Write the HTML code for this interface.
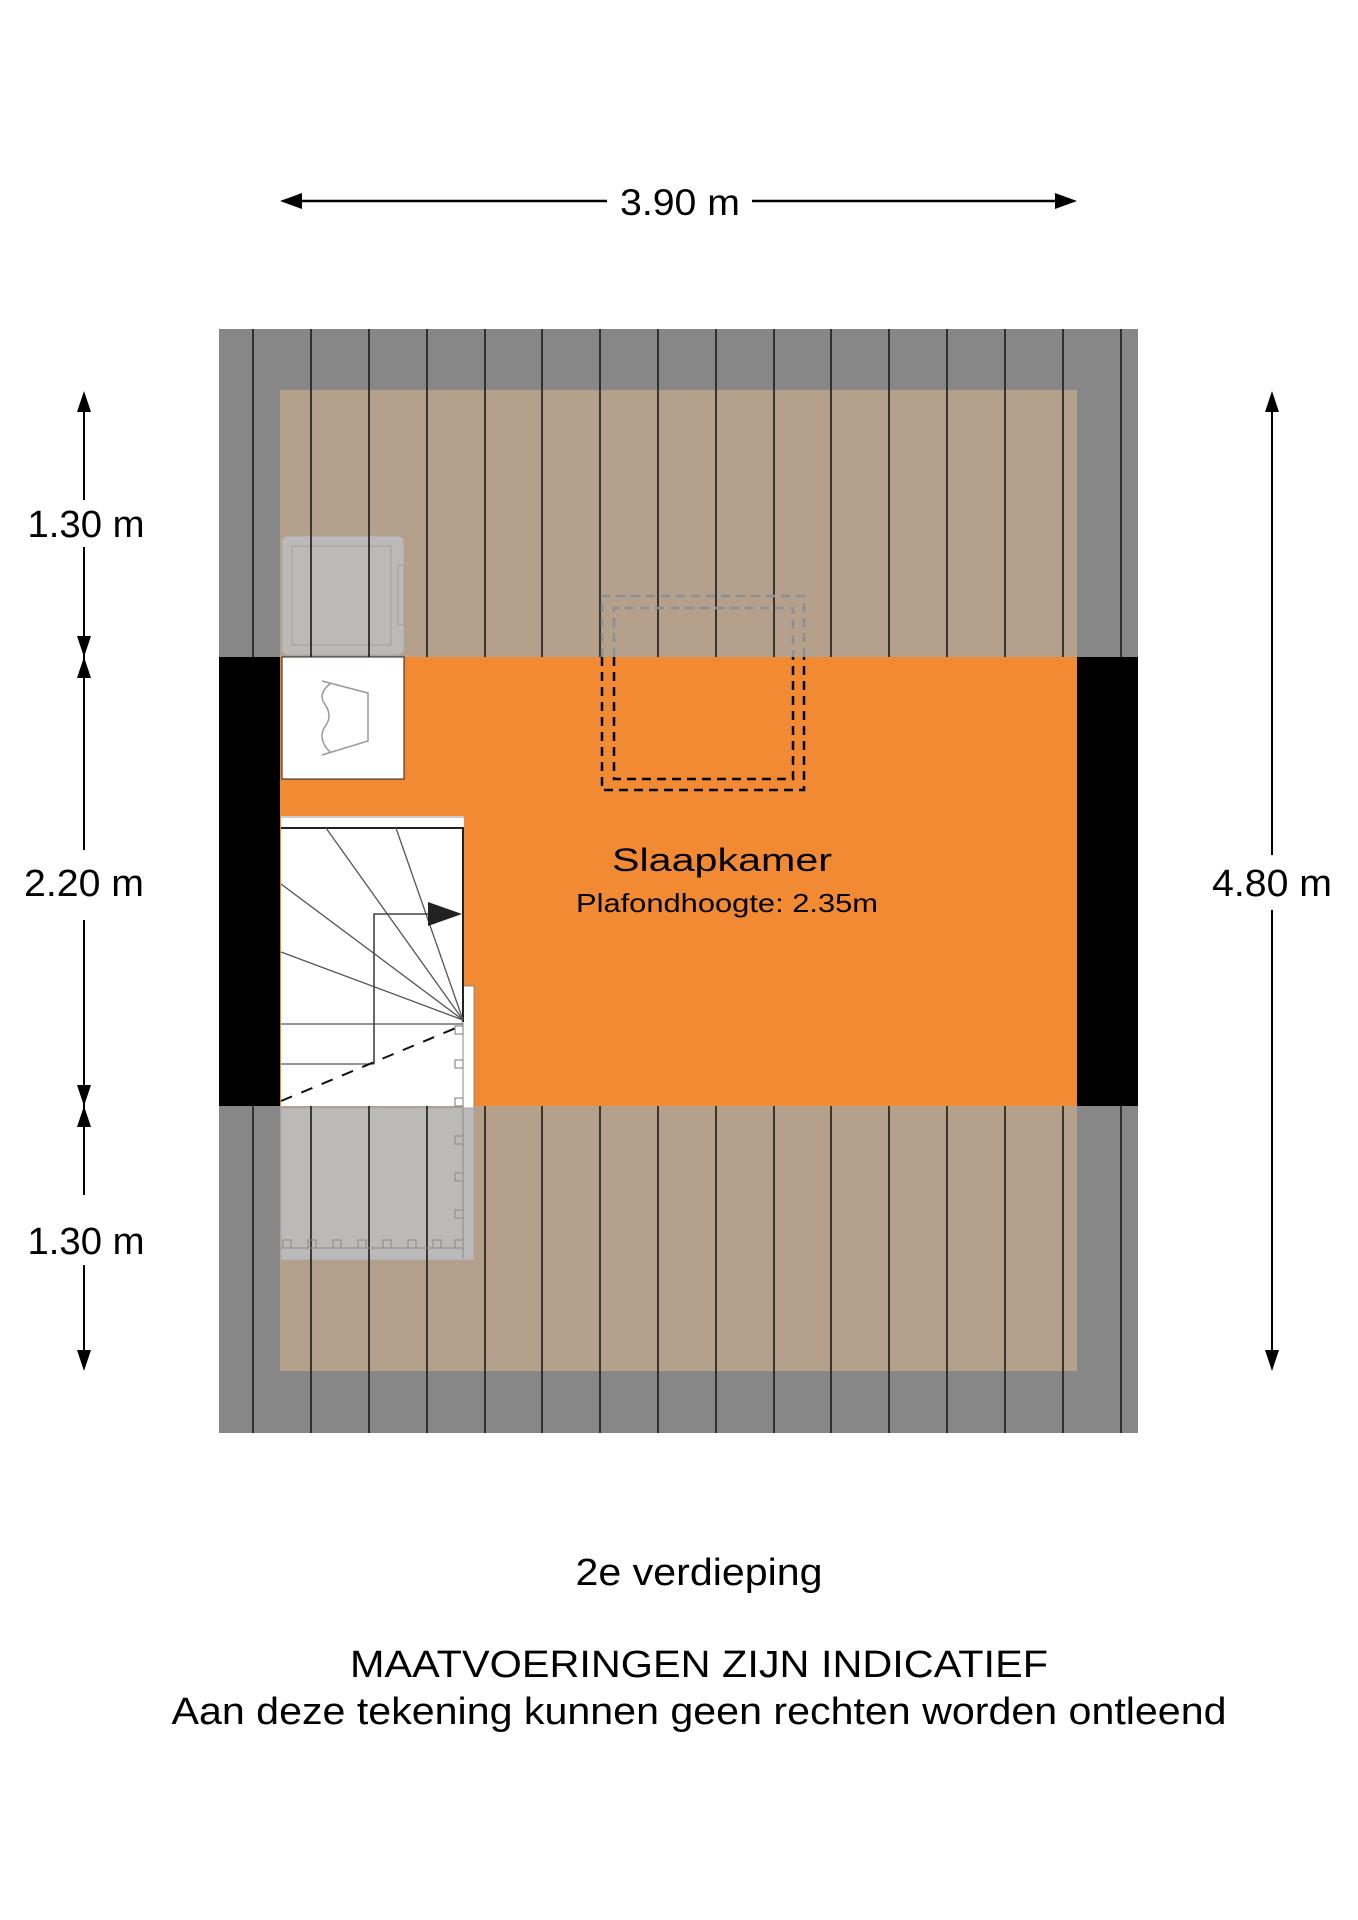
<!DOCTYPE html>
<html><head><meta charset="utf-8"><style>html,body{margin:0;padding:0;background:#fff}svg{display:block}text{font-family:"Liberation Sans",Arial,sans-serif;fill:#000}</style></head>
<body>
<svg width="1358" height="1920" viewBox="0 0 1358 1920" xmlns="http://www.w3.org/2000/svg">
<rect x="219" y="329" width="919" height="1104" fill="#878787"/>
<rect x="280" y="390" width="797" height="981" fill="#b5a08c"/>
<rect x="280" y="657" width="797" height="449" fill="#f18a33"/>
<rect x="281" y="816" width="183" height="290" fill="#fff"/>
<rect x="463" y="986" width="11" height="122" fill="#fff" stroke="#888" stroke-width="1"/>
<!-- appliance -->
<rect x="282" y="536" width="122" height="119" rx="6" fill="#bcbcbc" fill-opacity="0.9" stroke="#a8a8a8"/>
<rect x="292" y="546" width="99" height="99" fill="none" stroke="#a0a0a0"/>
<rect x="398" y="565" width="6" height="60" fill="none" stroke="#a0a0a0"/>
<rect x="281" y="1108" width="193" height="152" fill="#bcbcbc" fill-opacity="0.9" stroke="#a8a8a8"/>
<g stroke="#1a1a1a" stroke-width="1.6">
<line x1="253" y1="329" x2="253" y2="657"/><line x1="253" y1="1106" x2="253" y2="1433"/>
<line x1="311" y1="329" x2="311" y2="657"/><line x1="311" y1="1106" x2="311" y2="1433"/>
<line x1="369" y1="329" x2="369" y2="657"/><line x1="369" y1="1106" x2="369" y2="1433"/>
<line x1="427" y1="329" x2="427" y2="657"/><line x1="427" y1="1106" x2="427" y2="1433"/>
<line x1="485" y1="329" x2="485" y2="657"/><line x1="485" y1="1106" x2="485" y2="1433"/>
<line x1="542" y1="329" x2="542" y2="657"/><line x1="542" y1="1106" x2="542" y2="1433"/>
<line x1="600" y1="329" x2="600" y2="657"/><line x1="600" y1="1106" x2="600" y2="1433"/>
<line x1="658" y1="329" x2="658" y2="657"/><line x1="658" y1="1106" x2="658" y2="1433"/>
<line x1="716" y1="329" x2="716" y2="657"/><line x1="716" y1="1106" x2="716" y2="1433"/>
<line x1="774" y1="329" x2="774" y2="657"/><line x1="774" y1="1106" x2="774" y2="1433"/>
<line x1="831" y1="329" x2="831" y2="657"/><line x1="831" y1="1106" x2="831" y2="1433"/>
<line x1="889" y1="329" x2="889" y2="657"/><line x1="889" y1="1106" x2="889" y2="1433"/>
<line x1="947" y1="329" x2="947" y2="657"/><line x1="947" y1="1106" x2="947" y2="1433"/>
<line x1="1005" y1="329" x2="1005" y2="657"/><line x1="1005" y1="1106" x2="1005" y2="1433"/>
<line x1="1063" y1="329" x2="1063" y2="657"/><line x1="1063" y1="1106" x2="1063" y2="1433"/>
<line x1="1121" y1="329" x2="1121" y2="657"/><line x1="1121" y1="1106" x2="1121" y2="1433"/>
</g>
<rect x="219" y="657" width="61" height="449" fill="#000"/>
<rect x="1077" y="657" width="61" height="449" fill="#000"/>
<!-- white box -->
<rect x="282" y="657" width="122" height="122" fill="#fff" stroke="#222" stroke-width="1"/>
<path d="M322 681 L368 693 L368 741 L322 755 M331 683 Q318 693 324 703 Q334 716 324 728 Q318 740 330 752" fill="none" stroke="#999" stroke-width="1.5"/>
<!-- skylight -->
<g fill="none" stroke-width="2.5" stroke-dasharray="9 6">
<path d="M602 657 L602 790 L804 790 L804 657" stroke="#000"/>
<path d="M614 657 L614 779 L793 779 L793 657" stroke="#000"/>
<path d="M602 657 L602 596 L804 596 L804 657" stroke="#8b9094"/>
<path d="M614 657 L614 608 L793 608 L793 657" stroke="#8b9094"/>
</g>
<!-- stairs -->
<line x1="281" y1="817" x2="464" y2="817" stroke="#999"/>
<line x1="281" y1="828" x2="464" y2="828" stroke="#222" stroke-width="2"/>
<line x1="463" y1="828" x2="463" y2="1022" stroke="#222" stroke-width="2"/>
<g stroke="#555" stroke-width="1.3" fill="none">
<line x1="463" y1="1020" x2="326" y2="828"/>
<line x1="463" y1="1020" x2="396" y2="828"/>
<line x1="463" y1="1020" x2="281" y2="884"/>
<line x1="463" y1="1020" x2="281" y2="952"/>
<line x1="281" y1="1024" x2="463" y2="1024"/>
<line x1="281" y1="1064" x2="374" y2="1064"/>
<path d="M374 1064 L374 914 L455 914" stroke="#444" stroke-width="1.6"/>
</g>
<polygon points="428,902 462,914 428,926" fill="#222"/>
<line x1="281" y1="1101" x2="463" y2="1025" stroke="#111" stroke-width="2" stroke-dasharray="12 10"/>
<g fill="none" stroke="#777" stroke-width="1">
<rect x="455" y="1026" width="8" height="8"/><rect x="455" y="1060" width="8" height="8"/><rect x="455" y="1098" width="8" height="8"/>
</g>
<g fill="none" stroke="#8a8a8a" stroke-width="1">
<line x1="463" y1="1108" x2="463" y2="1258"/><line x1="281" y1="1248" x2="463" y2="1248"/>
<rect x="455" y="1136" width="8" height="8"/><rect x="455" y="1173" width="8" height="8"/><rect x="455" y="1210" width="8" height="8"/><rect x="455" y="1240" width="8" height="8"/>
<rect x="283" y="1240" width="8" height="8"/><rect x="308" y="1240" width="8" height="8"/><rect x="333" y="1240" width="8" height="8"/><rect x="358" y="1240" width="8" height="8"/><rect x="383" y="1240" width="8" height="8"/><rect x="408" y="1240" width="8" height="8"/><rect x="433" y="1240" width="8" height="8"/>
</g>
<!-- room labels -->
<text x="722" y="871" font-size="32" text-anchor="middle" textLength="220" lengthAdjust="spacingAndGlyphs">Slaapkamer</text>
<text x="727" y="912" font-size="26" text-anchor="middle" textLength="302" lengthAdjust="spacingAndGlyphs">Plafondhoogte: 2.35m</text>
<!-- top dimension -->
<g stroke="#000" stroke-width="2.5">
<line x1="290" y1="201" x2="607" y2="201"/><line x1="752" y1="201" x2="1067" y2="201"/>
</g>
<polygon points="280,201 302,193 302,209" fill="#000"/>
<polygon points="1077,201 1055,193 1055,209" fill="#000"/>
<text x="680" y="215" font-size="37" text-anchor="middle" textLength="120" lengthAdjust="spacingAndGlyphs">3.90 m</text>
<!-- left dimension -->
<g stroke="#000" stroke-width="2">
<line x1="84" y1="400" x2="84" y2="500"/><line x1="84" y1="547" x2="84" y2="1195"/><line x1="84" y1="1265" x2="84" y2="1362"/>
</g>
<rect x="20" y="850" width="130" height="70" fill="#fff"/>
<polygon points="84,391 77,412 91,412" fill="#000"/>
<polygon points="84,657 77,636 91,636" fill="#000"/>
<polygon points="84,657 77,678 91,678" fill="#000"/>
<polygon points="84,1106 77,1085 91,1085" fill="#000"/>
<polygon points="84,1106 77,1127 91,1127" fill="#000"/>
<polygon points="84,1371 77,1350 91,1350" fill="#000"/>
<text x="86" y="537" font-size="38" text-anchor="middle" textLength="117" lengthAdjust="spacingAndGlyphs">1.30 m</text>
<text x="84" y="896" font-size="38" text-anchor="middle" textLength="120" lengthAdjust="spacingAndGlyphs">2.20 m</text>
<text x="86" y="1254" font-size="38" text-anchor="middle" textLength="117" lengthAdjust="spacingAndGlyphs">1.30 m</text>
<!-- right dimension -->
<g stroke="#000" stroke-width="2">
<line x1="1272" y1="400" x2="1272" y2="855"/><line x1="1272" y1="910" x2="1272" y2="1362"/>
</g>
<polygon points="1272,391 1265,412 1279,412" fill="#000"/>
<polygon points="1272,1371 1265,1350 1279,1350" fill="#000"/>
<text x="1272" y="896" font-size="38" text-anchor="middle" textLength="120" lengthAdjust="spacingAndGlyphs">4.80 m</text>
<!-- footer -->
<text x="699" y="1585" font-size="38" text-anchor="middle" textLength="247" lengthAdjust="spacingAndGlyphs">2e verdieping</text>
<text x="699" y="1677" font-size="38" text-anchor="middle" textLength="698" lengthAdjust="spacingAndGlyphs">MAATVOERINGEN ZIJN INDICATIEF</text>
<text x="699" y="1724" font-size="38" text-anchor="middle" textLength="1055" lengthAdjust="spacingAndGlyphs">Aan deze tekening kunnen geen rechten worden ontleend</text>
</svg>
</body></html>
